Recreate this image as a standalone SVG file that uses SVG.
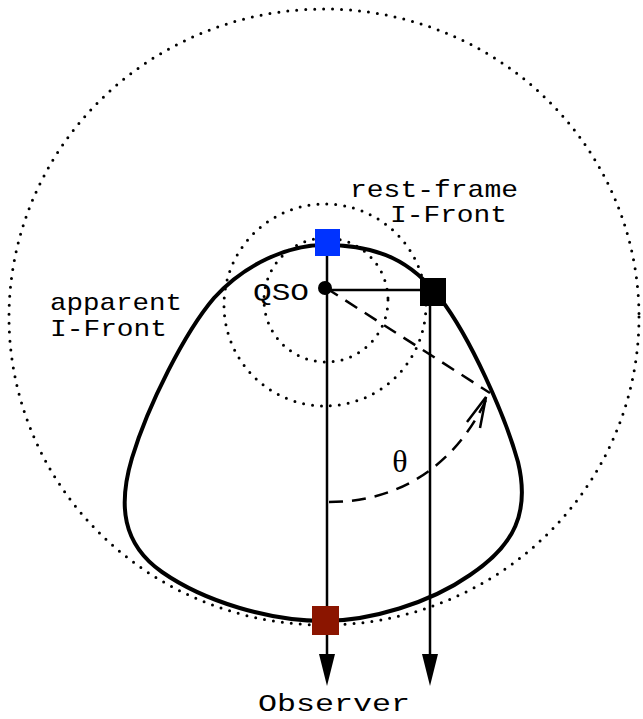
<svg xmlns="http://www.w3.org/2000/svg" width="643" height="719" viewBox="0 0 643 719">
<style>
.dot{fill:none;stroke:#000;stroke-width:3;stroke-dasharray:0 9;stroke-linecap:round}
.ln{fill:none;stroke:#000;stroke-width:2.5}
.dash{fill:none;stroke:#000;stroke-width:2.5;stroke-dasharray:14 9}
.lbl{font-family:"Liberation Mono","Courier New",monospace;font-size:24px;fill:#000}
.head{fill:#000}
</style>
<rect width="643" height="719" fill="#fff"/>
<g id="circles">
<ellipse class="dot" cx="324" cy="317" rx="315" ry="308"/>
<circle class="dot" cx="325" cy="305" r="101"/>
<circle class="dot" cx="326" cy="300" r="62"/>
</g>
<g id="apparent-front">
<path d="M324,245 C380,245 412,262 440,298 C470,337 505,415 518,462 C530,512 515,545 470,575 C430,603 370,621 324,621 C270,621 205,602 162,572 C122,544 118,505 132,458 C148,405 185,332 214,298 C245,264 288,245 324,245 Z" fill="none" stroke="#000" stroke-width="4"/>
</g>
<g id="connectors">
<line class="ln" x1="327" y1="245" x2="327" y2="660"/>
<polygon class="head" points="319,654 335,654 327,686"/>
<line class="ln" x1="430" y1="292" x2="430" y2="660"/>
<polygon class="head" points="422,654 438,654 430,686"/>
<line class="ln" x1="326" y1="290" x2="432" y2="290"/>
<line class="dash" x1="326" y1="288" x2="490" y2="393"/>
<path class="dash" d="M329,502 C400,502 455,465 486,400"/>
<path d="M467,422 L486,397 L480,428" fill="none" stroke="#000" stroke-width="2.5"/>
</g>
<g id="qso">
<circle cx="325" cy="288" r="7" fill="#000"/>
<text class="lbl" x="253" y="300" font-size="26" textLength="56" lengthAdjust="spacingAndGlyphs">QSO</text>
</g>
<g id="blue-node"><rect x="315" y="229" width="25" height="27" fill="#0033ff"/></g>
<g id="black-node"><rect x="420" y="278" width="26" height="28" fill="#000"/></g>
<g id="red-node"><rect x="312" y="606" width="27" height="29" fill="#8b1500"/></g>
<g id="labels">
<text class="lbl" x="350" y="197" textLength="168" lengthAdjust="spacingAndGlyphs">rest-frame</text>
<text class="lbl" x="390" y="222" textLength="117" lengthAdjust="spacingAndGlyphs">I-Front</text>
<text class="lbl" x="50" y="310" textLength="132" lengthAdjust="spacingAndGlyphs">apparent</text>
<text class="lbl" x="50" y="336" textLength="117" lengthAdjust="spacingAndGlyphs">I-Front</text>
<text x="400" y="472" font-family="Liberation Serif,serif" font-size="32" text-anchor="middle">θ</text>
<text class="lbl" x="258" y="711" font-size="29" textLength="152" lengthAdjust="spacingAndGlyphs">Observer</text>
</g>
</svg>
